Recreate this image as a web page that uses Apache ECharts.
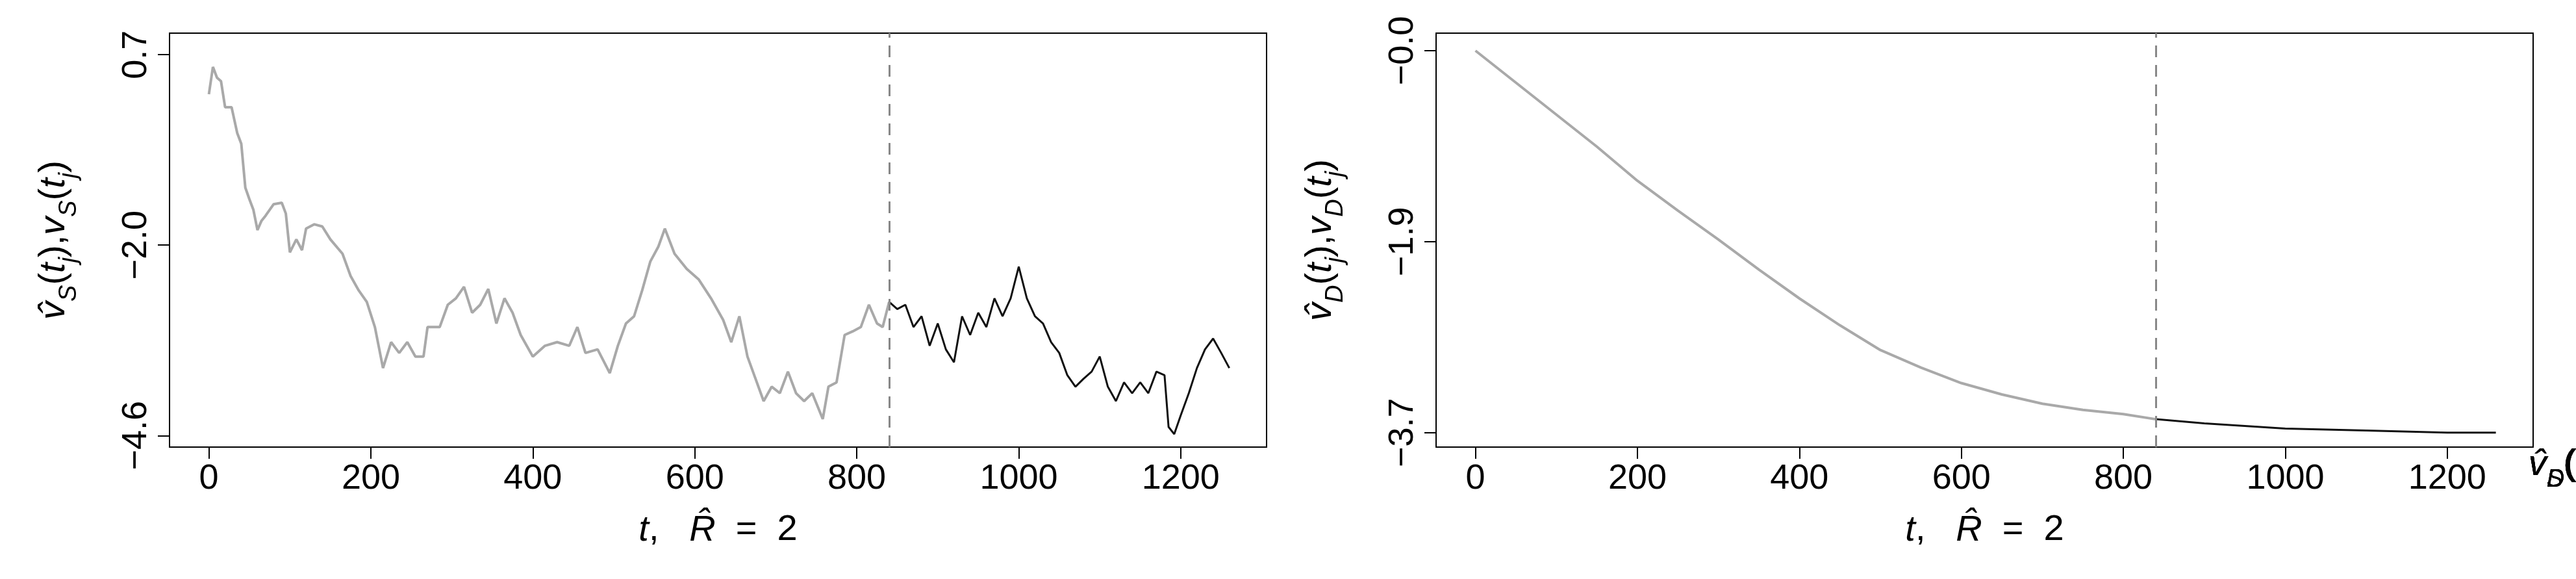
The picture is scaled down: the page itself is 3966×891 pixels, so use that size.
<!DOCTYPE html>
<html>
<head>
<meta charset="utf-8">
<script src="https://cdn.jsdelivr.net/npm/echarts@6/dist/echarts.min.js"></script>
<style>html,body{margin:0;background:#fff}#chart{width:3966px;height:891px}</style>
</head>
<body>
<div id="chart"></div>
<script>
// left panel: observed (grey) and fitted (black) v_S
const sObsT = [0,5,10,15,20,28,35,40,45,50,55,60,65,70,80,90,95,100,108,115,120,130,140,150,165,175,185,195,205,215,225,235,245,255,265,270,285,295,305,315,325,335,345,355,365,375,385,400,415,430,445,455,465,480,495,505,515,525,535,545,555,563,575,590,605,620,635,645,655,665,675,685,695,705,715,725,735,745,758,765,775,785,795,805,815,825,832,840];
const sObsV = [0.15,0.53,0.38,0.33,-0.03,-0.03,-0.39,-0.54,-1.15,-1.31,-1.46,-1.74,-1.61,-1.54,-1.38,-1.36,-1.51,-2.05,-1.87,-2.02,-1.72,-1.66,-1.69,-1.87,-2.07,-2.38,-2.58,-2.74,-3.09,-3.66,-3.30,-3.45,-3.30,-3.50,-3.50,-3.09,-3.09,-2.78,-2.69,-2.53,-2.89,-2.78,-2.56,-3.04,-2.69,-2.89,-3.20,-3.50,-3.35,-3.30,-3.35,-3.09,-3.45,-3.40,-3.73,-3.35,-3.04,-2.94,-2.58,-2.18,-1.97,-1.72,-2.07,-2.28,-2.43,-2.69,-2.99,-3.30,-2.94,-3.50,-3.81,-4.12,-3.92,-4.01,-3.71,-4.01,-4.12,-4.01,-4.37,-3.92,-3.86,-3.20,-3.15,-3.09,-2.78,-3.04,-3.09,-2.74];
const sFitT = [840,850,860,870,880,890,900,910,920,930,940,950,960,970,980,990,1000,1010,1020,1030,1040,1050,1060,1070,1080,1090,1100,1110,1120,1130,1140,1150,1160,1170,1180,1185,1192,1200,1210,1220,1230,1240,1250,1260];
const sFitV = [-2.74,-2.84,-2.78,-3.09,-2.94,-3.35,-3.04,-3.40,-3.58,-2.94,-3.20,-2.89,-3.09,-2.69,-2.94,-2.69,-2.25,-2.69,-2.94,-3.04,-3.30,-3.45,-3.76,-3.92,-3.81,-3.71,-3.50,-3.92,-4.12,-3.86,-4.01,-3.86,-4.01,-3.71,-3.76,-4.48,-4.58,-4.32,-4.01,-3.66,-3.40,-3.25,-3.45,-3.66];

// right panel: v_D
const dObsT = [0,50,100,150,200,250,300,350,400,450,500,550,600,650,700,750,800,840];
const dObsV = [0,-0.31,-0.62,-0.93,-1.26,-1.55,-1.83,-2.12,-2.40,-2.66,-2.90,-3.07,-3.22,-3.33,-3.42,-3.48,-3.52,-3.57];
const dFitT = [840,900,1000,1100,1200,1260];
const dFitV = [-3.57,-3.61,-3.66,-3.68,-3.70,-3.70];

const xTicks = [0,200,400,600,800,1000,1200];
const sYTicks = [0.7,-1.95,-4.6];
const sYLabels = ['0.7','\u22122.0','\u22124.6'];
const dYTicks = [0,-1.85,-3.7];
const dYLabels = ['\u22120.0','\u22121.9','\u22123.7'];
const splitT = 840;

const FONT = 'Liberation Sans';
const GREY = '#a9a9a9';
const zip = (a, b) => a.map((t, i) => [t, b[i]]);

const rich = {
    i: { fontFamily: FONT, fontStyle: 'italic', fontSize: 56, color: '#000' },
    n: { fontFamily: FONT, fontSize: 56, color: '#000' },
    s: { fontFamily: FONT, fontStyle: 'italic', fontSize: 38, color: '#000', verticalAlign: 'bottom', padding: [0, 0, -14, 0] }
};

function legendText(name) {
    const hat = name[0] === 'h';
    const sub = name[1];
    return '{i|' + (hat ? 'v\u0302' : 'v') + '}{s|' + sub + '}{n|(}{i|t}{s|j}{n|)}';
}

function yTitle(sub) {
    return '{i|v\u0302}{s|' + sub + '}{n|(}{i|t}{s|j}{n|),}{i|v}{s|' + sub + '}{n|(}{i|t}{s|j}{n|)}';
}

const grids = [
    { left: 261, top: 51, width: 1689, height: 637 },
    { left: 2211, top: 51, width: 1689, height: 637 }
];

function xAxis(idx) {
    return {
        gridIndex: idx, type: 'value', min: -48.6, max: 1306,
        name: '{i|t}{n|,   }{i|R\u0302}{n|  =  2}',
        nameLocation: 'middle', nameGap: 100,
        nameTextStyle: { rich: rich },
        axisLine: { show: false, onZero: false },
        axisTick: { show: true, length: 18, customValues: xTicks, lineStyle: { color: '#000', width: 2 } },
        axisLabel: { customValues: xTicks, fontFamily: FONT, fontSize: 54, color: '#000', margin: 22, formatter: v => String(v) },
        splitLine: { show: false }
    };
}

function yAxis(idx, min, max, ticks, labels, sub) {
    return {
        gridIndex: idx, type: 'value', min: min, max: max,
        name: yTitle(sub), nameLocation: 'middle', nameRotate: 90, nameGap: 150,
        nameTextStyle: { rich: rich },
        axisLine: { show: false, onZero: false },
        axisTick: { show: true, length: 18, customValues: ticks, lineStyle: { color: '#000', width: 2 } },
        axisLabel: {
            customValues: ticks, rotate: 90, fontFamily: FONT, fontSize: 54, color: '#000', margin: 24,
            formatter: v => labels[ticks.findIndex(t => Math.abs(t - v) < 1e-6)]
        },
        splitLine: { show: false }
    };
}

function lineSeries(name, idx, data, color, width, withSplit) {
    const s = {
        name: name, type: 'line', xAxisIndex: idx, yAxisIndex: idx,
        data: data, symbol: 'none', animation: false,
        lineStyle: { color: color, width: width }, itemStyle: { color: color }
    };
    if (withSplit) {
        s.markLine = {
            symbol: 'none', silent: true, label: { show: false },
            lineStyle: { color: '#888', type: [18, 12], width: 3 },
            data: [{ xAxis: splitT }]
        };
    }
    return s;
}

function legend(left, names) {
    return {
        type: 'plain', left: left, top: 51, orient: 'vertical',
        padding: [55, 80, 55, 55], itemGap: 24,
        borderColor: '#000', borderWidth: 2, backgroundColor: '#fff',
        itemWidth: 120, itemHeight: 10, icon: 'path://M0,0L1,0', data: names,
        textStyle: { rich: rich }, formatter: legendText
    };
}

const chart = echarts.init(document.getElementById('chart'));
chart.setOption({
    backgroundColor: '#fff',
    animation: false,
    grid: grids.map(g => Object.assign({ show: true, borderColor: '#000', borderWidth: 2, backgroundColor: 'transparent' }, g)),
    xAxis: [xAxis(0), xAxis(1)],
    yAxis: [
        yAxis(0, -4.76, 1.0, sYTicks, sYLabels, 'S'),
        yAxis(1, -3.84, 0.17, dYTicks, dYLabels, 'D')
    ],
    legend: [legend(1510, ['vS', 'hS']), legend(3460, ['vD', 'hD'])],
    series: [
        lineSeries('vS', 0, zip(sObsT, sObsV), GREY, 4, true),
        lineSeries('hS', 0, zip(sFitT, sFitV), '#111', 3, false),
        lineSeries('vD', 1, zip(dObsT, dObsV), GREY, 4, true),
        lineSeries('hD', 1, zip(dFitT, dFitV), '#111', 3, false)
    ]
});
window.addEventListener('resize', () => chart.resize());
</script>
</body>
</html>
